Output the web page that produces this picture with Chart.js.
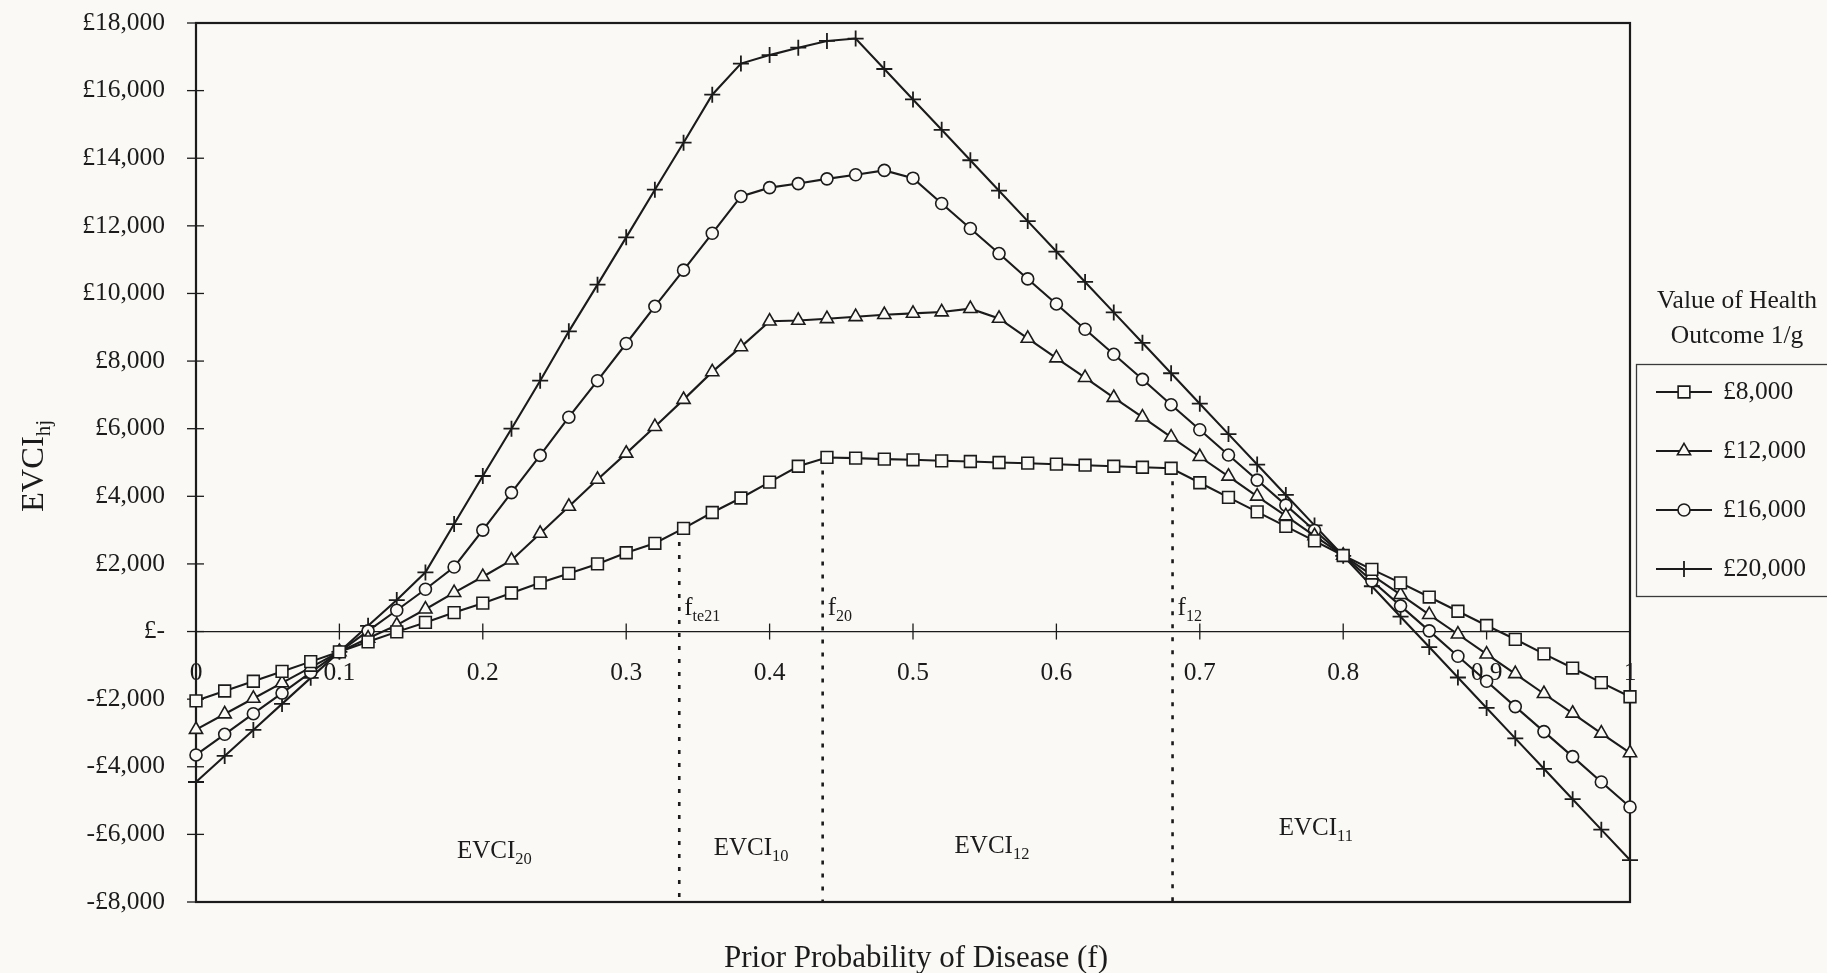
<!DOCTYPE html>
<html>
<head>
<meta charset="utf-8">
<title>EVCI by prior probability of disease</title>
<script src="https://cdn.jsdelivr.net/npm/chart.js@4.4.0/dist/chart.umd.min.js"></script>
<style>
  html, body { margin: 0; padding: 0; background: #faf9f5; }
</style>
</head>
<body>
<canvas id="evciChart" width="1827" height="973"></canvas>
<script>
const priorProb = [
  0, 0.02, 0.04, 0.06, 0.08, 0.1, 0.12, 0.14, 0.16, 0.18,
  0.2, 0.22, 0.24, 0.26, 0.28, 0.3, 0.32, 0.34, 0.36, 0.38,
  0.4, 0.42, 0.44, 0.46, 0.48, 0.5, 0.52, 0.54, 0.56, 0.58,
  0.6, 0.62, 0.64, 0.66, 0.68, 0.7, 0.72, 0.74, 0.76, 0.78,
  0.8, 0.82, 0.84, 0.86, 0.88, 0.9, 0.92, 0.94, 0.96, 0.98, 1
];

const evci8000 = [
  -2050, -1760, -1470, -1180, -890, -600, -305, -10, 270, 560,
  840, 1140, 1440, 1720, 2000, 2330, 2610, 3050, 3520, 3950,
  4420, 4890, 5150, 5130, 5100, 5080, 5050, 5030, 5000, 4980,
  4950, 4920, 4890, 4860, 4830, 4400, 3970, 3540, 3110, 2680,
  2250, 1840, 1440, 1020, 600, 180, -230, -660, -1080, -1510, -1930
];

const evci12000 = [
  -2900, -2440, -1980, -1520, -1060, -600, -200, 190, 660, 1150,
  1620, 2110, 2900, 3700, 4500, 5270, 6060, 6860, 7680, 8420,
  9180, 9200, 9250, 9310, 9370, 9410, 9450, 9550, 9260, 8670,
  8090, 7510, 6920, 6340, 5750, 5170, 4590, 4000, 3420, 2830,
  2250, 1670, 1090, 500, -80, -670, -1250, -1840, -2420, -3010, -3590
];

const evci16000 = [
  -3650, -3040, -2430, -1820, -1210, -600, 20, 630, 1250, 1910,
  3000, 4110, 5210, 6340, 7420, 8520, 9620, 10690, 11780, 12870,
  13130, 13250, 13390, 13510, 13640, 13410, 12660, 11920, 11180, 10430,
  9690, 8940, 8200, 7460, 6710, 5970, 5220, 4480, 3740, 2990,
  2250, 1500, 760, 20, -730, -1470, -2220, -2960, -3700, -4450, -5190
];

const evci20000 = [
  -4450, -3680, -2910, -2140, -1370, -600, 170, 930, 1750, 3180,
  4600, 6000, 7420, 8880, 10260, 11660, 13070, 14460, 15880, 16800,
  17050, 17270, 17470, 17540, 16640, 15740, 14840, 13940, 13040, 12140,
  11240, 10340, 9440, 8540, 7640, 6740, 5840, 4940, 4040, 3140,
  2240, 1340, 440, -460, -1360, -2260, -3160, -4060, -4960, -5860, -6760
];

const seriesNames = ["£8,000", "£12,000", "£16,000", "£20,000"];

const xTickValues = [0, 0.1, 0.2, 0.3, 0.4, 0.5, 0.6, 0.7, 0.8, 0.9, 1];
const xTickLabels = ["0", "0.1", "0.2", "0.3", "0.4", "0.5", "0.6", "0.7", "0.8", "0.9", "1"];

const yTickValues = [-8000, -6000, -4000, -2000, 0, 2000, 4000, 6000, 8000, 10000, 12000, 14000, 16000, 18000];
const yTickLabels = ["-£8,000", "-£6,000", "-£4,000", "-£2,000", "£-", "£2,000", "£4,000", "£6,000", "£8,000", "£10,000", "£12,000", "£14,000", "£16,000", "£18,000"];

// threshold probabilities (dotted lines) and the EVCI value where each line starts
const thresholdF = [0.337, 0.437, 0.681];
const thresholdTop = [2650, 5150, 4830];
const thresholdNames = [["f", "te21"], ["f", "20"], ["f", "12"]];

const regionNames = [["EVCI", "20"], ["EVCI", "10"], ["EVCI", "12"], ["EVCI", "11"]];

const bgColor = "#faf9f5";
const ink = "#1b1b1b";
const serif = "'Liberation Serif', 'Times New Roman', serif";

const markerStyles = [
  { pointStyle: "rect", radius: 8.3, borderWidth: 1.6 },
  { pointStyle: "triangle", radius: 7.6, borderWidth: 1.6 },
  { pointStyle: "circle", radius: 6, borderWidth: 1.6 },
  { pointStyle: "cross", radius: 8, borderWidth: 1.8 },
];

const seriesValues = [evci8000, evci12000, evci16000, evci20000];

const datasets = seriesValues.map((vals, i) => ({
  label: seriesNames[i],
  data: priorProb.map((f, j) => ({ x: f, y: vals[j] })),
  borderColor: ink,
  borderWidth: 2.1,
  tension: 0,
  clip: false,
  pointStyle: markerStyles[i].pointStyle,
  pointRadius: markerStyles[i].radius,
  pointBorderWidth: markerStyles[i].borderWidth,
  pointBorderColor: ink,
  pointBackgroundColor: bgColor,
}));

function subText(ctx, main, sub, x, y, size, subSize, drop) {
  ctx.font = size + "px " + serif;
  ctx.fillText(main, x, y);
  const w = ctx.measureText(main).width;
  ctx.font = subSize + "px " + serif;
  ctx.fillText(sub, x + w, y + drop);
}

const chartDecor = {
  id: "chartDecor",
  beforeDraw(chart) {
    const { ctx, width, height } = chart;
    ctx.save();
    ctx.fillStyle = bgColor;
    ctx.fillRect(0, 0, width, height);
    ctx.restore();
  },
  beforeDatasetsDraw(chart) {
    const { ctx, chartArea: area, scales: { x, y } } = chart;
    ctx.save();
    ctx.strokeStyle = ink;

    ctx.lineWidth = 2.6;
    ctx.setLineDash([4, 9]);
    thresholdF.forEach((f, i) => {
      const px = x.getPixelForValue(f);
      ctx.beginPath();
      ctx.moveTo(px, y.getPixelForValue(thresholdTop[i]));
      ctx.lineTo(px, area.bottom);
      ctx.stroke();
    });
    ctx.setLineDash([]);

    ctx.lineWidth = 1.3;
    yTickValues.forEach((v) => {
      const py = y.getPixelForValue(v);
      ctx.beginPath();
      ctx.moveTo(area.left - 9, py);
      ctx.lineTo(area.left + 8, py);
      ctx.stroke();
    });
    const y0 = y.getPixelForValue(0);
    xTickValues.forEach((v) => {
      if (v > 0 && v < 1) {
        const px = x.getPixelForValue(v);
        ctx.beginPath();
        ctx.moveTo(px, y0 - 8);
        ctx.lineTo(px, y0 + 8);
        ctx.stroke();
      }
    });

    ctx.lineWidth = 2.2;
    ctx.strokeRect(area.left, area.top, area.right - area.left, area.bottom - area.top);
    ctx.restore();
  },
  afterDraw(chart) {
    const { ctx, chartArea: area, scales: { x, y } } = chart;
    ctx.save();
    ctx.fillStyle = ink;
    ctx.textBaseline = "alphabetic";
    ctx.textAlign = "left";

    const y0 = y.getPixelForValue(0);
    thresholdF.forEach((f, i) => {
      subText(ctx, thresholdNames[i][0], thresholdNames[i][1], x.getPixelForValue(f) + 5, y0 - 17, 25, 16, 6);
    });

    const regionAt = [[0.182, 858], [0.361, 855], [0.529, 853], [0.755, 835]];
    regionNames.forEach((r, i) => {
      subText(ctx, r[0], r[1], x.getPixelForValue(regionAt[i][0]), regionAt[i][1], 25, 16.5, 6);
    });

    ctx.textAlign = "center";
    ctx.textBaseline = "middle";
    ctx.font = "31px " + serif;
    ctx.fillText("Prior Probability of Disease (f)", (area.left + area.right) / 2 + 3, 959);

    ctx.save();
    ctx.translate(43, 512);
    ctx.rotate(-Math.PI / 2);
    ctx.textAlign = "left";
    ctx.textBaseline = "alphabetic";
    subText(ctx, "EVCI", "hj", 0, 0, 32.5, 21, 7);
    ctx.restore();

    // legend
    ctx.font = "25.5px " + serif;
    ctx.fillText("Value of Health", 1737, 301);
    ctx.fillText("Outcome 1/g", 1737, 336);

    ctx.strokeStyle = "#3a3a3a";
    ctx.lineWidth = 1.3;
    ctx.strokeRect(1636.5, 364.5, 240, 232);

    const rowY = [392, 451, 510, 569];
    seriesNames.forEach((name, i) => {
      ctx.strokeStyle = ink;
      ctx.lineWidth = 2;
      ctx.beginPath();
      ctx.moveTo(1656, rowY[i]);
      ctx.lineTo(1712, rowY[i]);
      ctx.stroke();
      ctx.fillStyle = bgColor;
      ctx.lineWidth = markerStyles[i].borderWidth;
      Chart.helpers.drawPoint(ctx, {
        pointStyle: markerStyles[i].pointStyle,
        radius: markerStyles[i].radius,
        rotation: 0,
        borderWidth: markerStyles[i].borderWidth,
      }, 1684, rowY[i]);
      ctx.fillStyle = ink;
      ctx.textAlign = "left";
      ctx.fillText(name, 1723, rowY[i]);
    });
    ctx.restore();
  },
};

const ctx = document.getElementById("evciChart").getContext("2d");
new Chart(ctx, {
  type: "line",
  data: { datasets: datasets },
  plugins: [chartDecor],
  options: {
    responsive: false,
    animation: false,
    events: [],
    layout: { padding: { top: 23, right: 197, bottom: 71, left: 0 } },
    plugins: { legend: { display: false }, tooltip: { enabled: false } },
    scales: {
      x: {
        type: "linear",
        min: 0,
        max: 1,
        position: { y: 0 },
        afterBuildTicks: (scale) => {
          scale.ticks = xTickValues.map((v) => ({ value: v }));
        },
        afterFit: (scale) => {
          scale.paddingLeft = 0;
          scale.paddingRight = 0;
        },
        grid: { display: false, drawTicks: false },
        border: { display: true, color: ink, width: 1.3 },
        ticks: {
          autoSkip: false,
          maxRotation: 0,
          padding: 26,
          color: ink,
          font: { family: serif, size: 25.5 },
          callback: (v) => xTickLabels[xTickValues.indexOf(v)],
        },
      },
      y: {
        type: "linear",
        min: -8000,
        max: 18000,
        afterBuildTicks: (scale) => {
          scale.ticks = yTickValues.map((v) => ({ value: v }));
        },
        afterFit: (scale) => {
          scale.width = 196;
          scale.paddingTop = 0;
          scale.paddingBottom = 0;
        },
        grid: { display: false, drawTicks: false },
        border: { display: false },
        ticks: {
          padding: 31,
          color: ink,
          font: { family: serif, size: 25.5 },
          callback: (v) => yTickLabels[yTickValues.indexOf(v)],
        },
      },
    },
  },
});
</script>
</body>
</html>
